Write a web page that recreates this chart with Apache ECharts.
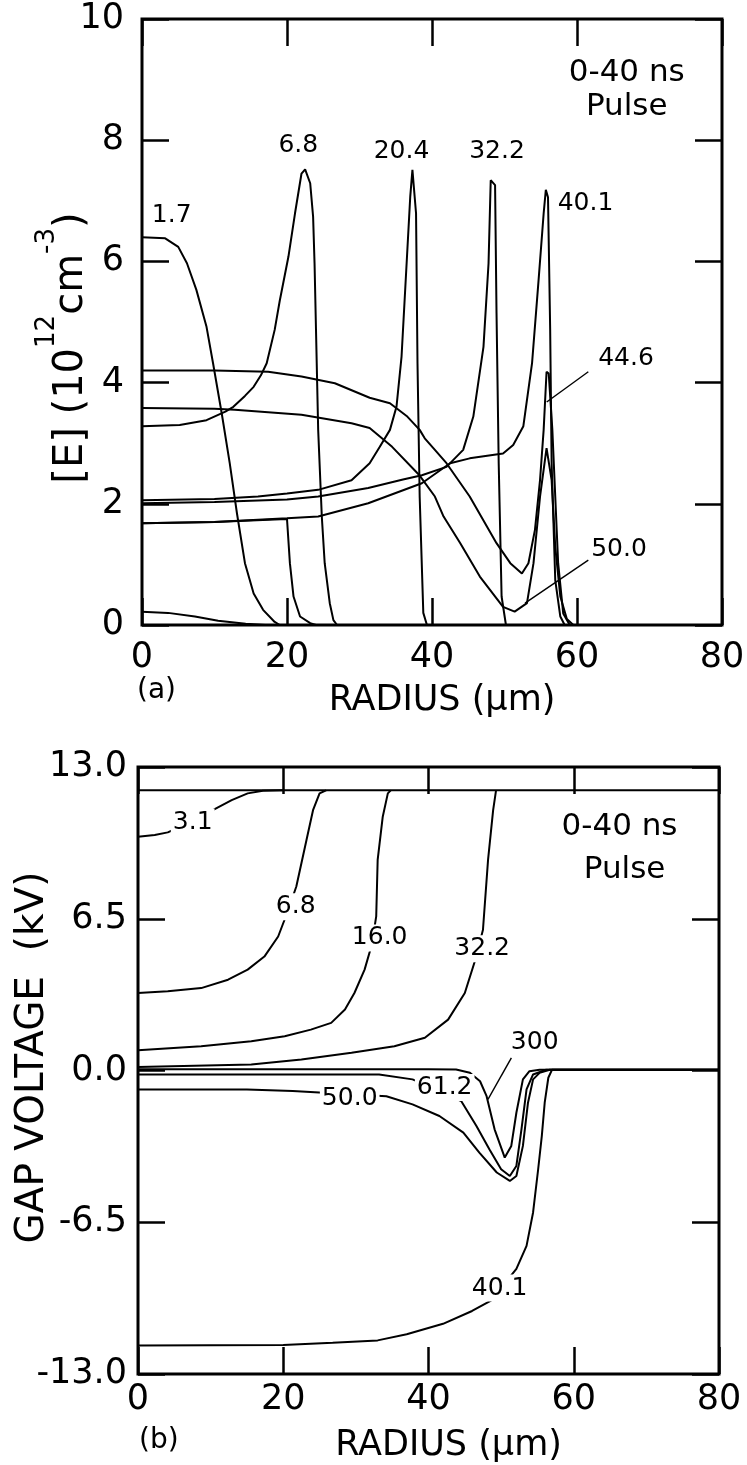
<!DOCTYPE html>
<html>
<head>
<meta charset="utf-8">
<script src="https://cdn.jsdelivr.net/npm/echarts@6/dist/echarts.min.js"></script>
<style>html,body{margin:0;padding:0;background:#fff}#c{width:747px;height:1465px}</style>
</head>
<body>
<div id="c"></div>
<script>
// ---------- Panel (a): [E] vs radius ----------
const xTicks = [0, 20, 40, 60, 80];
const a_r_0 = [0, 3.6, 7.3, 10.5, 14.3, 17];
const a_e_0 = [0.22, 0.20, 0.14, 0.07, 0.02, 0];
const a_r_1_7 = [0, 3.2, 5.0, 6.2, 7.5, 8.9, 9.8, 11.0, 12.1, 13.1, 14.2, 15.4, 16.7, 18.3, 19.0];
const a_e_1_7 = [6.40, 6.38, 6.24, 5.97, 5.53, 4.92, 4.32, 3.49, 2.67, 1.84, 1.02, 0.52, 0.25, 0.05, 0];
const a_r_6_8 = [0, 5.2, 8.9, 11.5, 12.6, 14.2, 15.4, 16.4, 17.2, 18.3, 19.0, 20.2, 21.1, 22.0, 22.5, 23.2, 23.6, 23.8, 24.0, 24.3, 24.8, 25.2, 25.9, 26.4, 26.9];
const a_e_6_8 = [3.28, 3.30, 3.38, 3.52, 3.60, 3.78, 3.93, 4.12, 4.32, 4.87, 5.35, 6.08, 6.79, 7.45, 7.52, 7.29, 6.74, 5.97, 4.87, 3.22, 1.79, 1.02, 0.36, 0.08, 0];
const a_r_x = [0, 10, 20.0, 20.4, 20.9, 21.8, 23.2, 24];
const a_e_x = [1.68, 1.70, 1.75, 1.02, 0.47, 0.14, 0.03, 0];
const a_r_20_4 = [0, 10, 16, 20, 24.3, 28.9, 31.4, 32.8, 34.2, 35.1, 35.8, 36.5, 37.0, 37.3, 37.8, 38.0, 38.3, 38.8, 39.3];
const a_e_20_4 = [2.06, 2.08, 2.12, 2.17, 2.23, 2.39, 2.67, 2.94, 3.22, 3.60, 4.43, 5.97, 7.07, 7.51, 6.79, 4.32, 2.12, 0.20, 0];
const a_r_32_2 = [0, 10, 20, 24.3, 31.2, 36.0, 38.6, 42.0, 44.3, 45.7, 47.1, 47.8, 48.1, 48.3, 48.7, 48.9, 49.2, 49.6, 50.2];
const a_e_32_2 = [2.01, 2.03, 2.07, 2.12, 2.26, 2.40, 2.47, 2.61, 2.89, 3.44, 4.59, 5.97, 7.34, 7.35, 7.26, 5.15, 2.67, 0.47, 0];
const a_r_40_1 = [0, 10, 20, 24.3, 31.2, 38.6, 42.5, 45.2, 49.8, 51.2, 52.6, 53.8, 54.7, 55.4, 55.7, 56.0, 56.3, 56.5, 57.0, 57.7, 58.3];
const a_e_40_1 = [1.68, 1.70, 1.76, 1.79, 2.01, 2.34, 2.67, 2.75, 2.83, 2.97, 3.28, 4.32, 5.69, 6.79, 7.18, 7.06, 4.87, 2.67, 0.74, 0.14, 0];
const a_r_44_6 = [0, 10, 17.4, 22.0, 26.6, 31.4, 34.2, 36.5, 38.3, 39.0, 40.4, 42.0, 45.2, 48.9, 50.8, 52.4, 53.3, 54.2, 54.9, 55.4, 55.8, 56.1, 56.6, 57.0, 57.4, 58.1, 59.0];
const a_e_44_6 = [4.20, 4.20, 4.18, 4.10, 3.99, 3.75, 3.66, 3.45, 3.22, 3.08, 2.89, 2.67, 2.12, 1.35, 1.02, 0.85, 1.02, 1.57, 2.39, 3.22, 4.18, 4.15, 3.22, 2.12, 1.02, 0.19, 0];
const a_r_50_0 = [0, 10, 12.8, 22.0, 28.9, 31.4, 34.5, 38.2, 40.4, 41.6, 43.9, 46.6, 49.8, 51.4, 53.1, 54.0, 54.9, 55.8, 56.5, 57.0, 57.7, 58.6, 59.5];
const a_e_50_0 = [3.58, 3.57, 3.55, 3.47, 3.33, 3.25, 2.94, 2.48, 2.12, 1.79, 1.35, 0.80, 0.30, 0.22, 0.36, 1.02, 2.12, 2.92, 2.39, 1.29, 0.47, 0.10, 0];
const a_yTicks = [0, 2, 4, 6, 8, 10];
const a_labText = ['1.7', '6.8', '20.4', '32.2', '40.1', '44.6', '50.0'];
const a_labR = [4.1, 21.56, 35.8, 48.97, 61.17, 66.76, 65.79];
const a_labE = [6.75, 7.92, 7.81, 7.81, 6.95, 4.39, 1.24];
const a_lead44_r = [61.56, 55.82], a_lead44_e = [4.18, 3.68];
const a_lead50_r = [61.56, 52.83], a_lead50_e = [1.07, 0.36];
const a_noteText = ['0-40 ns', 'Pulse'];
const a_noteR = [66.86, 66.86];
const a_noteE = [9.11, 8.55];

// ---------- Panel (b): gap voltage vs radius ----------
const b_yTicks = [-13, -6.5, 0, 6.5, 13];
const b_r_0 = [0, 80];
const b_v_0 = [12.0, 12.0];
const b_r_3_1 = [0, 2.3, 4.1, 7.0, 10.3, 12.9, 15.1, 17.2, 20];
const b_v_3_1 = [10.01, 10.09, 10.2, 10.6, 11.15, 11.58, 11.87, 11.98, 12.0];
const b_r_6_8 = [0, 4.1, 8.7, 12.4, 15.1, 17.4, 19.3, 20.6, 21.8, 23.2, 24.1, 25.0, 25.9];
const b_v_6_8 = [3.32, 3.39, 3.53, 3.89, 4.32, 4.88, 5.74, 6.8, 7.88, 9.87, 11.15, 11.87, 12.0];
const b_r_16_0 = [0, 8.7, 15.6, 20.2, 23.8, 26.6, 28.5, 29.8, 31.2, 32.2, 32.8, 33.0, 33.7, 34.4, 34.8];
const b_v_16_0 = [0.87, 1.04, 1.25, 1.47, 1.75, 2.04, 2.61, 3.32, 4.32, 5.4, 6.6, 9.02, 10.87, 11.87, 12.0];
const b_r_32_2 = [0, 15.6, 22.5, 29.4, 35.3, 39.5, 42.7, 45.0, 46.5, 47.5, 48.2, 48.9, 49.3];
const b_v_32_2 = [0.15, 0.26, 0.47, 0.76, 1.04, 1.40, 2.18, 3.32, 4.8, 6.03, 9.02, 11.15, 12.0];
const b_r_300 = [0, 20, 40, 43.8, 45.7, 47.1, 48.0, 49.1, 50.5, 51.4, 52.1, 53.0, 53.9, 55.3, 80];
const b_v_300 = [0.05, 0.05, 0.05, 0.04, -0.1, -0.46, -1.10, -2.52, -3.73, -3.23, -1.81, -0.38, -0.03, 0.03, 0.03];
const b_r_61_2 = [0, 20, 33.2, 37.8, 41.0, 44.5, 46.6, 48.4, 50.0, 51.2, 52.1, 52.8, 53.5, 54.4, 56.2, 80];
const b_v_61_2 = [-0.17, -0.17, -0.17, -0.38, -0.8, -1.31, -2.38, -3.38, -4.23, -4.52, -4.09, -2.52, -0.81, -0.17, 0.03, 0.03];
const b_r_50_0 = [0, 15, 21.3, 28, 34.2, 37.8, 41.5, 44.8, 47.0, 49.4, 51.2, 52.1, 53.0, 53.7, 54.4, 55.3, 56.7, 80];
const b_v_50_0 = [-0.81, -0.81, -0.88, -1.0, -1.10, -1.45, -1.95, -2.66, -3.52, -4.37, -4.73, -4.52, -3.23, -1.38, -0.38, -0.1, 0.03, 0.03];
const b_r_40_1 = [0, 20, 26.8, 33.0, 37.0, 42.0, 46.0, 48.6, 52.1, 53.5, 54.4, 55.1, 55.6, 56.0, 56.5, 57.0, 80];
const b_v_40_1 = [-11.78, -11.76, -11.66, -11.56, -11.3, -10.85, -10.3, -9.86, -8.5, -7.51, -6.08, -4.23, -2.81, -1.38, -0.31, 0.03, 0.03];
const b_labText = ['3.1', '6.8', '16.0', '32.2', '300', '61.2', '50.0', '40.1'];
const b_labR = [7.53, 21.71, 33.28, 47.39, 54.62, 42.23, 29.15, 49.8];
const b_labV = [10.64, 7.01, 5.68, 5.21, 1.20, -0.73, -1.20, -9.32];
const b_lead300_r = [51.41, 48.19], b_lead300_v = [0.54, -1.24];
const b_noteText = ['0-40 ns', 'Pulse'];
const b_noteR = [66.3, 67.0];
const b_noteV = [10.44, 8.59];

// ---------- helpers ----------
const FONT = 'DejaVu Sans';
const pairs = (xs, ys) => xs.map((x, i) => [x, ys[i]]);
function curve(xs, ys, gi, w) {
  return {
    type: 'line', xAxisIndex: gi * 2, yAxisIndex: gi * 2,
    data: pairs(xs, ys), showSymbol: false, symbol: 'none', silent: true,
    lineStyle: { color: '#000', width: w || 2 }, z: 3
  };
}
const tickStyle = { inside: true, length: 27, lineStyle: { color: '#000', width: 2.5 } };
const hiddenLine = { show: false, onZero: false };
function xAxes(gi) {
  return [
    { gridIndex: gi, type: 'value', position: 'bottom', min: 0, max: 80, interval: 20,
      axisLine: hiddenLine, splitLine: { show: false }, axisTick: tickStyle,
      axisLabel: { color: '#000', fontFamily: FONT, fontSize: 35, margin: gi === 0 ? 15 : 8,
                   showMinLabel: true, showMaxLabel: true },
      name: 'RADIUS (μm)', nameLocation: 'middle', nameGap: gi === 0 ? 58 : 54, nameMoveOverlap: false,
      nameTextStyle: { color: '#000', fontFamily: FONT, fontSize: 35, padding: [0, 0, 0, gi === 0 ? 20 : 40] } },
    { gridIndex: gi, type: 'value', position: 'top', min: 0, max: 80, interval: 20,
      axisLine: hiddenLine, splitLine: { show: false }, axisTick: tickStyle,
      axisLabel: { show: false } }
  ];
}

const option = {
  animation: false,
  backgroundColor: '#fff',
  grid: [
    { left: 142, top: 19, width: 580, height: 606, show: true, borderColor: '#000', borderWidth: 3,
      backgroundColor: 'transparent', outerBoundsMode: 'none', containLabel: false },
    { left: 138, top: 767, width: 581, height: 607, show: true, borderColor: '#000', borderWidth: 3,
      backgroundColor: 'transparent', outerBoundsMode: 'none', containLabel: false }
  ],
  xAxis: [...xAxes(0), ...xAxes(1)],
  yAxis: [
    { gridIndex: 0, type: 'value', position: 'left', min: a_yTicks[0], max: a_yTicks[a_yTicks.length - 1], interval: 2,
      axisLine: hiddenLine, splitLine: { show: false }, axisTick: tickStyle,
      axisLabel: { color: '#000', fontFamily: FONT, fontSize: 35, margin: 18, padding: [4, 0, 0, 0],
                   showMinLabel: true, showMaxLabel: true },
      name: '{n|[E] (10}{s|12}{n|cm}{s|-3}{n|)}', nameLocation: 'middle', nameRotate: 90, nameGap: 50, nameMoveOverlap: false,
      nameTextStyle: { color: '#000', fontFamily: FONT, fontSize: 40, padding: [0, 52, 0, 0],
        rich: { n: { fontFamily: FONT, fontSize: 40, color: '#000', lineHeight: 58, verticalAlign: 'bottom' },
                s: { fontFamily: FONT, fontSize: 26, color: '#000', lineHeight: 58, verticalAlign: 'top' } } } },
    { gridIndex: 0, type: 'value', position: 'right', min: 0, max: 10, interval: 2,
      axisLine: hiddenLine, splitLine: { show: false }, axisTick: tickStyle,
      axisLabel: { show: false } },
    { gridIndex: 1, type: 'value', position: 'left', min: b_yTicks[0], max: b_yTicks[b_yTicks.length - 1], interval: 6.5,
      axisLine: hiddenLine, splitLine: { show: false }, axisTick: tickStyle,
      axisLabel: { color: '#000', fontFamily: FONT, fontSize: 35, margin: 11, padding: [4, 0, 0, 0],
                   showMinLabel: true, showMaxLabel: true, formatter: v => v.toFixed(1) },
      name: 'GAP VOLTAGE  (kV)', nameLocation: 'middle', nameRotate: 90, nameGap: 86, nameMoveOverlap: false,
      nameTextStyle: { color: '#000', fontFamily: FONT, fontSize: 39, padding: [0, 0, 0, 26] } },
    { gridIndex: 1, type: 'value', position: 'right', min: -13, max: 13, interval: 6.5,
      axisLine: hiddenLine, splitLine: { show: false }, axisTick: tickStyle,
      axisLabel: { show: false } }
  ],
  series: [
    curve(a_r_0, a_e_0, 0),
    curve(a_r_1_7, a_e_1_7, 0),
    curve(a_r_6_8, a_e_6_8, 0),
    curve(a_r_x, a_e_x, 0),
    curve(a_r_20_4, a_e_20_4, 0),
    curve(a_r_32_2, a_e_32_2, 0),
    curve(a_r_40_1, a_e_40_1, 0),
    curve(a_r_44_6, a_e_44_6, 0),
    curve(a_r_50_0, a_e_50_0, 0),
    curve(a_lead44_r, a_lead44_e, 0, 1.4),
    curve(a_lead50_r, a_lead50_e, 0, 1.4),

    curve(b_r_0, b_v_0, 1),
    curve(b_r_3_1, b_v_3_1, 1),
    curve(b_r_6_8, b_v_6_8, 1),
    curve(b_r_16_0, b_v_16_0, 1),
    curve(b_r_32_2, b_v_32_2, 1),
    curve(b_r_300, b_v_300, 1),
    curve(b_r_61_2, b_v_61_2, 1),
    curve(b_r_50_0, b_v_50_0, 1),
    curve(b_r_40_1, b_v_40_1, 1),
    curve(b_lead300_r, b_lead300_v, 1, 1.4)
  ]
};
const chart = echarts.init(document.getElementById('c'), null, { renderer: 'canvas' });
chart.setOption(option);

// Annotation texts placed through the axes' own coordinate conversion
function textEls(texts, xs, ys, gi, size, bg) {
  return texts.map((t, i) => {
    const p = chart.convertToPixel({ xAxisIndex: gi * 2, yAxisIndex: gi * 2 }, [xs[i], ys[i]]);
    return {
      type: 'text', x: p[0], y: p[1], z: 100,
      style: {
        text: t, fontFamily: FONT, fontSize: size, fill: '#000',
        align: 'center', verticalAlign: 'middle',
        backgroundColor: bg ? '#fff' : null, padding: bg ? [1, 2, 1, 2] : 0
      }
    };
  });
}
chart.setOption({
  graphic: [
    ...textEls(a_labText, a_labR, a_labE, 0, 25, false),
    ...textEls(a_noteText, a_noteR, a_noteE, 0, 31, false),
    ...textEls(b_labText, b_labR, b_labV, 1, 25, true),
    ...textEls(b_noteText, b_noteR, b_noteV, 1, 31, false),
    { type: 'text', left: 137, top: 677, style: { text: '(a)', fontFamily: FONT, fontSize: 28, fill: '#000' } },
    { type: 'text', left: 139, top: 1427, style: { text: '(b)', fontFamily: FONT, fontSize: 28, fill: '#000' } }
  ]
});
</script>
</body>
</html>
